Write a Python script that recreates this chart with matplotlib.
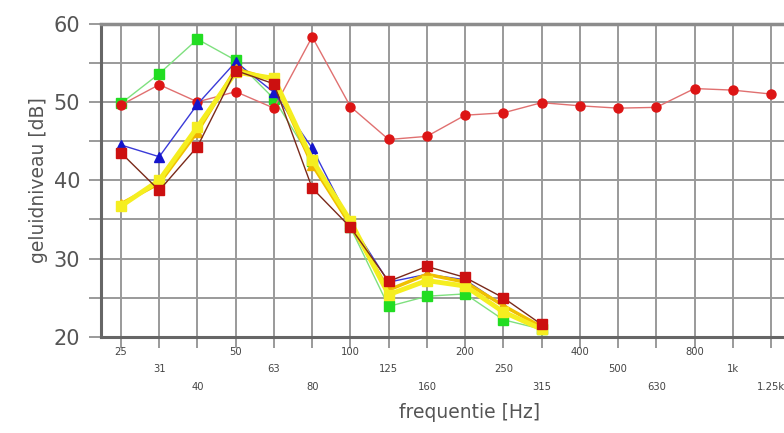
import matplotlib
matplotlib.use("Agg")
import matplotlib.pyplot as plt
import numpy as np

freq_labels = ["25", "31", "40", "50", "63", "80", "100", "125", "160", "200",
               "250", "315", "400", "500", "630", "800", "1k", "1.25k"]

red_circles = [49.6, 52.2, 50.0, 51.3, 49.2, 58.3, 49.4, 45.2, 45.6, 48.3,
               48.6, 49.9, 49.5, 49.2, 49.3, 51.7, 51.5, 51.0]
green_squares = [49.8, 53.6, 58.0, 55.3, 50.4, 42.5, 34.0, 23.9, 25.2, 25.5, 22.2, 21.0]
blue_triangles = [44.5, 43.0, 49.7, 55.1, 51.2, 44.1, 34.6, 27.0, 28.0, 27.3, 24.0, 21.2]
orange_triangles = [37.0, 39.6, 46.2, 54.2, 52.8, 42.0, 34.3, 26.0, 28.0, 27.0, 24.0, 21.3]
yellow_squares = [36.7, 40.0, 46.8, 53.8, 53.0, 42.6, 34.8, 25.4, 27.2, 26.5, 23.2, 21.0]
darkred_squares = [43.5, 38.7, 44.3, 54.0, 52.3, 39.0, 34.0, 27.1, 29.0, 27.6, 25.0, 21.6]

y_ticks = [20, 30, 40, 50, 60]

fig = plt.figure(figsize=(7.84, 4.33), dpi=100)
ax = fig.add_axes([101/784, 96/433, 1 - 101/784, (337 - 23.5)/433])

x_all = np.arange(len(freq_labels))

def xs(vals):
    return np.arange(len(vals))

# series
ax.plot(xs(green_squares), green_squares, color="#7fe07f", lw=1.0, marker="s",
        ms=6.5, mfc="#22dd22", mec="#22dd22", zorder=3)
ax.plot(xs(red_circles), red_circles, color="#e07070", lw=1.0, marker="o",
        ms=6.5, mfc="#dd1515", mec="#dd1515", zorder=4)
ax.plot(xs(blue_triangles), blue_triangles, color="#3a3ad8", lw=1.0, marker="^",
        ms=6.5, mfc="#1515cc", mec="#1515cc", zorder=4)
ax.plot(xs(orange_triangles), orange_triangles, color="#f0c000", lw=2.5, marker="^",
        ms=6.5, mfc="#f0b000", mec="#f0b000", zorder=4)
ax.plot(xs(yellow_squares), yellow_squares, color="#f5ee20", lw=3.5, marker="s",
        ms=6.5, mfc="#f5ee20", mec="#f5ee20", zorder=5)
ax.plot(xs(darkred_squares), darkred_squares, color="#7a2a1a", lw=1.0, marker="s",
        ms=7, mfc="#cc1010", mec="#cc1010", zorder=6)

ax.set_xlim(-0.523, 17.34)
ax.set_ylim(20, 60)

# grid
ax.set_xticks(x_all)
ax.set_yticks(np.arange(20, 61, 5))
ax.grid(True, which="major", color="#9a9a9a", lw=1.4, zorder=0)
ax.set_axisbelow(True)

ax.set_yticklabels([str(v) if v in y_ticks else "" for v in np.arange(20, 61, 5)],
                   fontsize=15, color="#555555")
ax.set_xticklabels([])
ax.tick_params(axis="y", length=9, width=1.4, color="#9a9a9a", pad=6)
ax.tick_params(axis="x", length=8, width=1.4, color="#9a9a9a")

# staggered frequency labels
for i, lab in enumerate(freq_labels):
    row = i % 3
    ax.annotate(lab, xy=(i, 0), xycoords=("data", "axes fraction"),
                xytext=(0, -15 - row * 17.5), textcoords="offset pixels",
                ha="center", va="center", fontsize=7.2, color="#444444")

ax.spines["right"].set_visible(False)
ax.spines["left"].set_color("#666666")
ax.spines["left"].set_linewidth(2.2)
ax.spines["bottom"].set_color("#666666")
ax.spines["bottom"].set_linewidth(2.2)
ax.spines["top"].set_color("#8c8c8c")
ax.spines["top"].set_linewidth(2.5)

ax.set_ylabel("geluidniveau [dB]", fontsize=13.5, color="#555555", labelpad=4)
fig.text(470/784, 1 - 413/433, "frequentie [Hz]", ha="center", va="center",
         fontsize=13.5, color="#555555")

fig.savefig("out.png", dpi=100)
